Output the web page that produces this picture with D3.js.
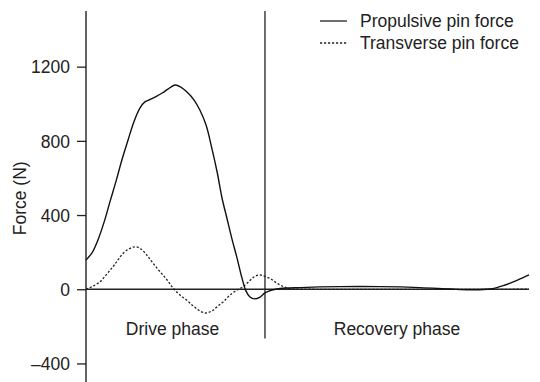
<!DOCTYPE html>
<meta charset="utf-8">
<style>
  body { margin: 0; background: #fff; }
  svg { font-family: "Liberation Sans", Arial, sans-serif; }
  .tick text { font-size: 17.5px; fill: #222; }
  .tick line { stroke: #222; stroke-width: 1.3; }
</style>
<svg width="540" height="382"></svg>
<script src="https://d3js.org/d3.v7.min.js"></script>
<script>
// propulsive pin force (solid), time in % of stroke
var propTime  = [0, 1.35, 2.7, 4.1, 5.4, 6.8, 8.1, 9.5, 10.8, 12.2, 13.3, 14.5, 15.8, 17.2, 18.5, 20.1, 21.4, 22.8, 24.4, 25.7, 27.1, 28.4, 29.6, 30.7, 31.8, 33, 34.1, 35.2, 36.1, 37, 38.1, 39.3, 40.4, 42, 43.8, 48.3, 57.3, 66.4, 75.4, 82.2, 86.7, 91.2, 94.6, 97.5, 100];
var propForce = [158, 196, 266, 363, 471, 584, 697, 805, 902, 978, 1010, 1023, 1039, 1058, 1079, 1101, 1090, 1063, 1020, 966, 885, 761, 632, 492, 384, 266, 168, 61, -9, -42, -52, -42, -20, -4, 4, 9, 14, 14, 9, 1, -3, 1, 23, 50, 77];

// transverse pin force (dotted)
var transTime  = [0, 1.6, 3.2, 4.7, 6.1, 7.2, 8.4, 9.7, 11.1, 12.4, 13.7, 15.1, 16.7, 18.3, 19.7, 21.2, 22.7, 24.2, 25.7, 27.1, 28.4, 29.8, 31.2, 32.5, 34.1, 35.5, 37, 38.1, 39.3, 40.4, 41.5, 42.7, 43.8, 45.1, 46.5, 50.6, 100];
var transForce = [0, 17, 41, 82, 122, 158, 194, 217, 229, 217, 185, 141, 95, 50, 5, -31, -58, -90, -117, -128, -117, -90, -63, -31, -4, 14, 47, 69, 77, 69, 59, 39, 23, 9, 2, 0, 0];

var yTicks = [-400, 0, 400, 800, 1200];
var phaseSplit = 40.4;
var phases = [{name: "Drive phase", from: 0, to: phaseSplit}, {name: "Recovery phase", from: phaseSplit, to: 100}];
var legendItems = [{name: "Propulsive pin force", dash: null}, {name: "Transverse pin force", dash: "2.2,1.8"}];

var svg = d3.select("svg");

var x = d3.scaleLinear().domain([0, 100]).range([86, 529]);
var y = d3.scaleLinear().domain([-500, 1500]).range([382, 11]);

var line = d3.line()
    .x(function(d) { return x(d[0]); })
    .y(function(d) { return y(d[1]); })
    .curve(d3.curveCatmullRom);

// y axis
var yAxis = svg.append("g")
    .attr("transform", "translate(" + x(0) + ",0)")
    .call(d3.axisLeft(y).tickValues(yTicks).tickSize(9).tickPadding(7)
      .tickFormat(function(d) { return d < 0 ? "\u2013" + Math.abs(d) : String(d); }));
yAxis.select(".domain").remove();
yAxis.selectAll(".tick text").attr("dy", "0.36em");

svg.append("line")
    .attr("x1", x(0)).attr("x2", x(0))
    .attr("y1", y(1500)).attr("y2", y(-500))
    .attr("stroke", "#222").attr("stroke-width", 1.4);

// zero line
svg.append("line")
    .attr("x1", x(0)).attr("x2", x(100))
    .attr("y1", y(0)).attr("y2", y(0))
    .attr("stroke", "#222").attr("stroke-width", 1.3);

// phase divider
svg.append("line")
    .attr("x1", x(phaseSplit)).attr("x2", x(phaseSplit))
    .attr("y1", y(1500)).attr("y2", y(-265))
    .attr("stroke", "#222").attr("stroke-width", 1.3);

svg.append("text")
    .attr("transform", "translate(26," + y(490) + ") rotate(-90)")
    .attr("text-anchor", "middle")
    .style("font-size", "17.5px")
    .style("fill", "#222")
    .text("Force (N)");

svg.selectAll(".phase")
    .data(phases).enter()
    .append("text")
    .attr("class", "phase")
    .attr("x", function(d) { return (x(d.from) + x(d.to)) / 2 - (d.from === 0 ? 3 : 0); })
    .attr("y", 335)
    .attr("text-anchor", "middle")
    .style("font-size", "17.5px")
    .style("fill", "#222")
    .text(function(d) { return d.name; });

// curves
svg.append("path")
    .datum(d3.zip(transTime, transForce))
    .attr("d", line)
    .attr("fill", "none")
    .attr("stroke", "#222")
    .attr("stroke-width", 1.3)
    .attr("stroke-dasharray", "2.2,1.8");

svg.append("path")
    .datum(d3.zip(propTime, propForce))
    .attr("d", line)
    .attr("fill", "none")
    .attr("stroke", "#111")
    .attr("stroke-width", 1.4);

// legend
var legend = svg.selectAll(".legend")
    .data(legendItems).enter()
    .append("g")
    .attr("class", "legend")
    .attr("transform", function(d, i) { return "translate(320," + (21 + i * 22) + ")"; });

legend.append("line")
    .attr("x1", 0).attr("x2", 27)
    .attr("stroke", "#222").attr("stroke-width", 1.3)
    .attr("stroke-dasharray", function(d) { return d.dash; });

legend.append("text")
    .attr("x", 40)
    .attr("dy", "0.33em")
    .style("font-size", "17.5px")
    .style("fill", "#222")
    .text(function(d) { return d.name; });
</script>
